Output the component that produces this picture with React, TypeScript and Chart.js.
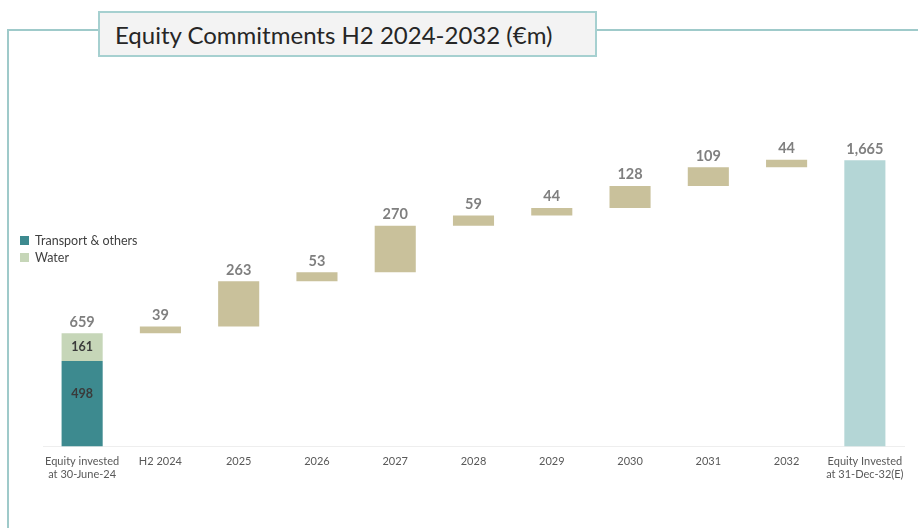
import React, { useEffect, useRef } from "react";
import { Chart, registerables } from "chart.js";

Chart.register(...registerables);

const categories: (string | string[])[] = [
  ["Equity invested", "at 30-June-24"],
  "H2 2024",
  "2025",
  "2026",
  "2027",
  "2028",
  "2029",
  "2030",
  "2031",
  "2032",
  ["Equity Invested", "at 31-Dec-32(E)"],
];

const transportValue = 498;
const waterValue = 161;
const increments = [39, 263, 53, 270, 59, 44, 128, 109, 44];
const finalTotal = 1665;
const startTotal = 659;

const FONT = "Lato, 'Open Sans', sans-serif";

export default function App() {
  const ref = useRef<HTMLCanvasElement | null>(null);

  useEffect(() => {
    if (!ref.current) return;
    const n = categories.length;
    const transportData: any[] = Array(n).fill(null);
    transportData[0] = [0, transportValue];
    const waterData: any[] = Array(n).fill(null);
    waterData[0] = [transportValue, transportValue + waterValue];
    const incData: any[] = Array(n).fill(null);
    let run = startTotal;
    increments.forEach((v, i) => {
      incData[i + 1] = [run, run + v];
      run += v;
    });
    const finalData: any[] = Array(n).fill(null);
    finalData[n - 1] = [0, finalTotal];

    const labelPlugin = {
      id: "labels",
      afterDatasetsDraw(chart: any) {
        const ctx = chart.ctx;
        const y = chart.scales.y;
        ctx.save();
        ctx.textAlign = "center";
        const m0 = chart.getDatasetMeta(0).data[0];
        const m1 = chart.getDatasetMeta(1).data[0];
        ctx.fillStyle = "#3a3a3a";
        ctx.font = `bold 12.5px ${FONT}`;
        ctx.textBaseline = "middle";
        ctx.fillText(String(waterValue), m1.x, (y.getPixelForValue(transportValue) + y.getPixelForValue(transportValue + waterValue)) / 2);
        ctx.fillText(String(transportValue), m0.x, y.getPixelForValue(transportValue) + 33);
        ctx.fillStyle = "#7f7f7f";
        ctx.font = `bold 14.5px ${FONT}`;
        ctx.textBaseline = "bottom";
        ctx.fillText(String(startTotal), m1.x, y.getPixelForValue(startTotal) - 4);
        const m2 = chart.getDatasetMeta(2).data;
        increments.forEach((v, i) => {
          const el = m2[i + 1];
          ctx.fillText(String(v), el.x, Math.min(el.y, el.base) - 4);
        });
        const m3 = chart.getDatasetMeta(3).data[n - 1];
        ctx.fillText(finalTotal.toLocaleString("en-US"), m3.x, y.getPixelForValue(finalTotal) - 4);
        ctx.restore();
      },
    };

    const chart = new Chart(ref.current, {
      type: "bar",
      data: {
        labels: categories as any,
        datasets: [
          { label: "Transport & others", data: transportData, backgroundColor: "#3d8a8f" },
          { label: "Water", data: waterData, backgroundColor: "#c6d6b8" },
          { label: "Change", data: incData, backgroundColor: "#c9c19b" },
          { label: "Total", data: finalData, backgroundColor: "#b4d6d6" },
        ] as any,
      },
      options: {
        animation: false,
        responsive: false,
        maintainAspectRatio: false,
        datasets: { bar: { grouped: false, categoryPercentage: 1, barPercentage: 0.525 } } as any,
        layout: { padding: { top: 137, left: 43, right: 14, bottom: 39 } },
        plugins: {
          legend: { display: false },
          tooltip: { enabled: false },
          title: { display: false },
        },
        scales: {
          x: {
            grid: { display: false, drawTicks: false },
            border: { display: true, color: "#eeeeee", width: 1 },
            ticks: { color: "#595959", font: { family: FONT, size: 11 }, padding: 8, maxRotation: 0, autoSkip: false },
          },
          y: {
            display: false,
            min: 0,
            max: 1800,
          },
        },
      },
      plugins: [labelPlugin],
    });
    return () => chart.destroy();
  }, []);

  const legendItem = (color: string, text: string, top: number) => (
    <div style={{ position: "absolute", left: 20, top, display: "flex", alignItems: "center", fontFamily: FONT, fontSize: 12.5, color: "#404040" }}>
      <span style={{ width: 9, height: 9, background: color, display: "inline-block", marginRight: 6 }} />
      {text}
    </div>
  );

  return (
    <div style={{ position: "fixed", left: 0, top: 0, width: 918, height: 528, background: "#fff", overflow: "hidden" }}>
      <div style={{ position: "absolute", left: 7, top: 29, width: 2, height: 499, background: "#9fcaca" }} />
      <div style={{ position: "absolute", left: 7, top: 29, width: 911, height: 2, background: "#9fcaca" }} />
      <canvas ref={ref} width={918} height={528} style={{ position: "absolute", left: 0, top: 0 }} />
      <div
        style={{
          position: "absolute",
          left: 98,
          top: 11,
          width: 480,
          height: 42,
          background: "#f3f3f3",
          border: "2px solid #a6d0d0",
          fontFamily: FONT,
          fontSize: 24,
          color: "#262626",
          display: "flex",
          alignItems: "center",
          paddingLeft: 15,
          boxSizing: "content-box",
        }}
      >
        Equity Commitments H2 2024-2032 (€m)
      </div>
      {legendItem("#3d8a8f", "Transport & others", 233)}
      {legendItem("#c6d6b8", "Water", 250)}
    </div>
  );
}
